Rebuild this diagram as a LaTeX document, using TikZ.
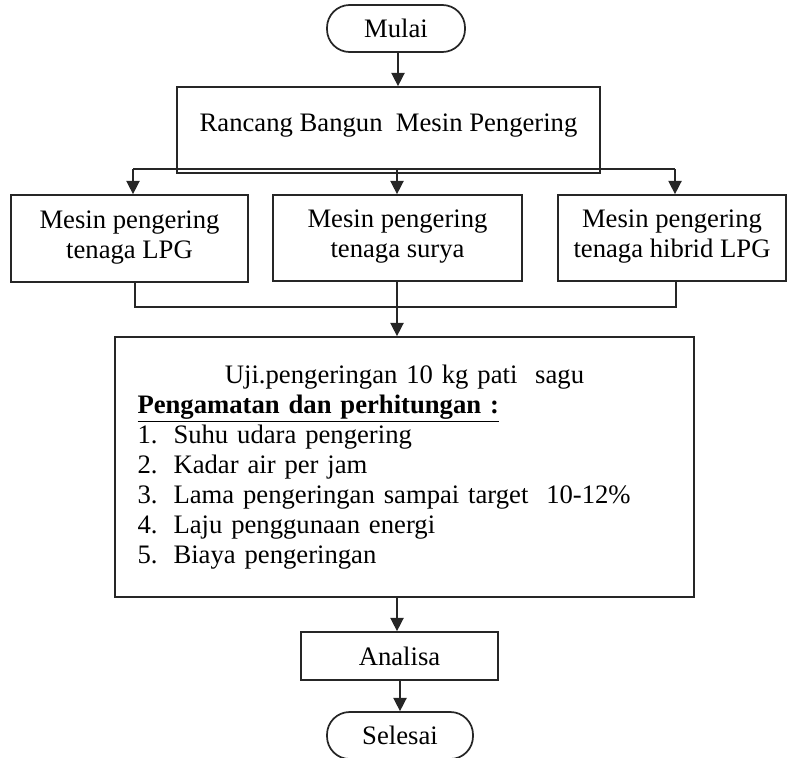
\documentclass[tikz,border=0pt]{standalone}
\usepackage{fontspec}
\setmainfont{Liberation Serif}
\usetikzlibrary{arrows.meta}
\begin{document}
\begin{tikzpicture}[x=0.75pt,y=-0.75pt,
  box/.style={draw=black!85, line width=1.3pt, inner sep=0pt, align=center,
    font=\fontsize{20}{22.5}\selectfont},
  term/.style={box, rounded corners=17pt},
  conn/.style={draw=black!85, line width=1.1pt},
  arr/.style={conn, -{Triangle[length=10pt,width=10pt]}},
]
\useasboundingbox (0,0) rectangle (787,757);

% nodes
\node[term, minimum width=103.5pt, minimum height=35.25pt] (mulai) at (396,28.5) {Mulai};
\node[box, minimum width=317.25pt, minimum height=64.5pt, text height=20pt, text depth=18.5pt] (rancang) at (388.5,130) {Rancang Bangun\ \ Mesin Pengering};
\node[box, minimum width=177.75pt, minimum height=65.25pt, text depth=6pt] (b1) at (129.5,238.5) {Mesin pengering\\tenaga LPG};
\node[box, minimum width=186.75pt, minimum height=64.5pt, text depth=6pt] (b2) at (397.5,238) {Mesin pengering\\tenaga surya};
\node[box, minimum width=171pt, minimum height=64.5pt, text depth=6pt] (b3) at (672,238) {Mesin pengering\\tenaga hibrid LPG};
\node[box, minimum width=434.25pt, minimum height=195pt, text width=400.5pt, align=left] (uji) at (404.5,467)
  {\makebox[400.5pt]{Uji.pengeringan 10 kg pati\ \ sagu}\\
   \textbf{\underline{Pengamatan dan perhitungan :}}\\
   \makebox[27pt][l]{1.}Suhu udara pengering\\
   \makebox[27pt][l]{2.}Kadar air per jam\\
   \makebox[27pt][l]{3.}Lama pengeringan sampai target\ \ 10-12\%\\
   \makebox[27pt][l]{4.}Laju penggunaan energi\\
   \makebox[27pt][l]{5.}Biaya pengeringan};
\node[box, minimum width=147.75pt, minimum height=36pt] (analisa) at (399.5,656) {Analisa};
\node[term, minimum width=109.5pt, minimum height=35.25pt] (selesai) at (400,735.5) {Selesai};

% connectors
\draw[arr] (mulai.south -| 398,0) -- (rancang.north -| 398,0);

\coordinate (bl) at (133,169);
\coordinate (br) at (675,169);
\coordinate (bc) at (397,169);
\draw[conn] (bl) -- (br);
\draw[arr] (bl) -- (b1.north -| bl);
\draw[arr] (bc) -- (b2.north -| bc);
\draw[arr] (br) -- (b3.north -| br);

\coordinate (ml) at (135,307);
\coordinate (mr) at (676,307);
\draw[conn] (b1.south -| ml) -- (ml) -- (mr) -- (b3.south -| mr);
\draw[arr] (b2.south -| bc) -- (uji.north -| bc);

\draw[arr] (uji.south -| 397,0) -- (analisa.north -| 397,0);
\draw[arr] (analisa.south -| 400,0) -- (selesai.north -| 400,0);
\end{tikzpicture}
\end{document}
